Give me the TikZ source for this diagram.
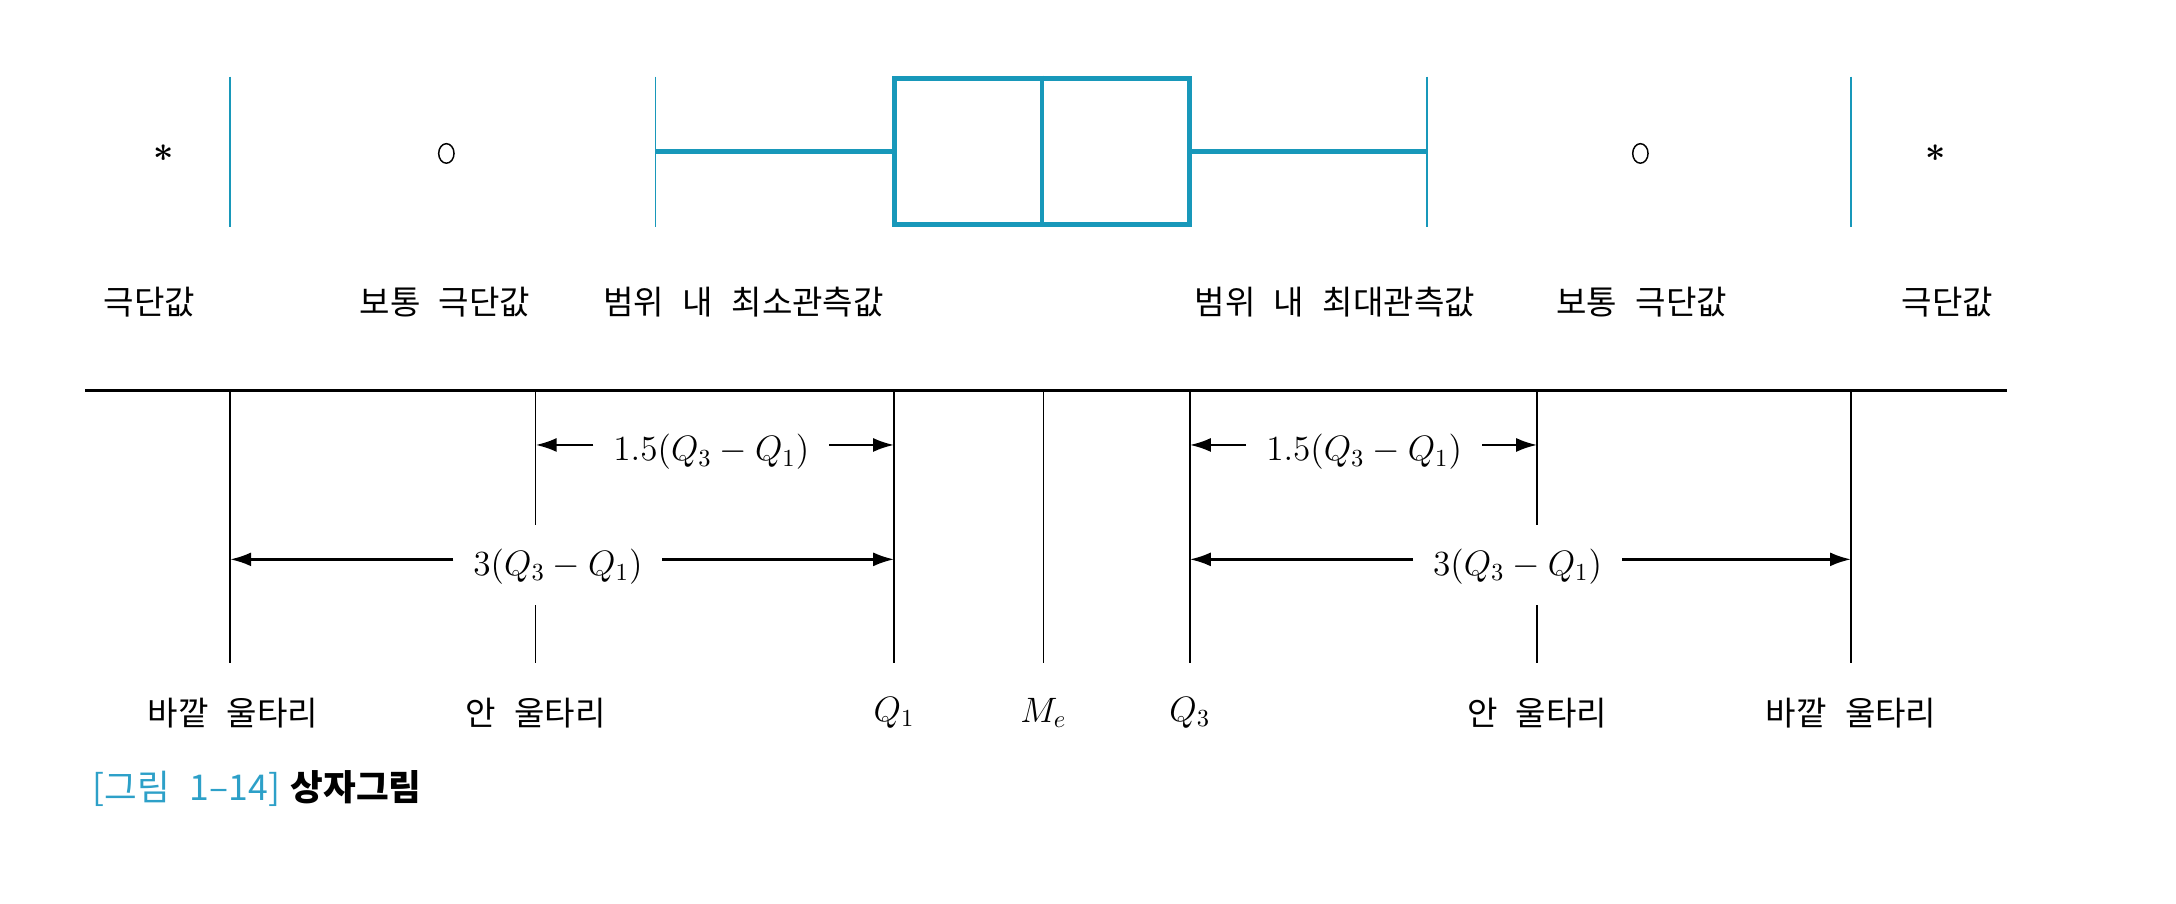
\documentclass[tikz,border=0pt]{standalone}
\usepackage{amsmath}
\usepackage[no-math]{fontspec}
\setmainfont{Noto Sans CJK KR}[WordSpace=2.5]
\usepackage{xcolor}
\usepackage{tikz}
\usetikzlibrary{calc, positioning, arrows.meta, shapes.geometric}
\definecolor{boxblue}{RGB}{24,152,186}
\definecolor{capblue}{RGB}{45,160,200}

\begin{document}
\begin{tikzpicture}[
    lab/.style={font=\fontsize{13.5}{16}\selectfont, inner sep=0pt},
    mlab/.style={font=\fontsize{14.4}{17}\selectfont, inner xsep=0.28cm, inner ysep=0pt},
    fence/.style={boxblue, line width=0.7pt},
    bx/.style={draw=boxblue, line width=2pt, minimum width=4.24cm, minimum height=2.1cm, inner sep=0pt},
    oval/.style={draw, ellipse, minimum width=2.2mm, minimum height=2.8mm, inner sep=0pt, line width=0.6pt},
    star/.style={font=\fontsize{14.4}{17}\selectfont, inner sep=0pt},
    dim/.style={-{Latex[length=3mm,width=2mm]}, line width=1pt},
    tick/.style={line width=0.6pt}
]
    \useasboundingbox (0,0) rectangle (31.2,-12.96);

    % box plot
    \node[bx] (box) at (14.94,-2.17) {};
    \draw[boxblue, line width=2pt] (box.north) -- (box.south);
    \foreach \n/\x in {fL/3.3, wL/9.4, wR/20.46, fR/26.54} {
        \coordinate (\n-t) at (\x,-1.1);
        \coordinate (\n-b) at (\x,-3.26);
        \draw[fence] (\n-t) -- (\n-b);
    }
    \draw[boxblue, line width=2pt] (wL-t |- box.west) -- (box.west);
    \draw[boxblue, line width=2pt] (box.east) -- (wR-t |- box.east);
    \node[star] (sL) at (2.34,-2.2) {$\boldsymbol{*}$};
    \node[oval] (oL) at (6.4,-2.2) {};
    \node[oval] (oR) at (23.52,-2.2) {};
    \node[star] (sR) at (27.76,-2.2) {$\boldsymbol{*}$};

    \node[lab] (exL) at (2.14,-4.33) {극단값};
    \node[lab] (mexL) at (6.38,-4.33) {보통 극단값};
    \node[lab] (minv) at (10.66,-4.33) {범위 내 최소관측값};
    \node[lab] (maxv) at (19.14,-4.33) {범위 내 최대관측값};
    \node[lab] (mexR) at (23.54,-4.33) {보통 극단값};
    \node[lab] (exR) at (27.92,-4.33) {극단값};

    % axis and fences
    \coordinate (ax0) at (1.22,-5.6);
    \coordinate (ax1) at (28.78,-5.6);
    \draw[line width=1.1pt] (ax0) -- (ax1);
    \foreach \n/\x in {ofL/3.3, q1/12.82, me/14.96, q3/17.06, ofR/26.54} {
        \coordinate (\n) at (\x,-5.6);
        \coordinate (\n-b) at (\x,-9.5);
        \draw[tick] (\n) -- (\n-b);
    }
    \foreach \n/\x in {ifL/7.68, ifR/22.04} {
        \coordinate (\n) at (\x,-5.6);
        \coordinate (\n-g) at (\x,-7.53);
        \coordinate (\n-h) at (\x,-8.68);
        \coordinate (\n-b) at (\x,-9.5);
        \draw[tick] (\n) -- (\n-g);
        \draw[tick] (\n-h) -- (\n-b);
    }

    \coordinate (r1) at (0,-6.38);
    \coordinate (r2) at (0,-8.02);
    \node[mlab] (aL) at (10.2,-6.48) {$1.5(Q_3-Q_1)$};
    \node[mlab] (bL) at (8.0,-8.12) {$3(Q_3-Q_1)$};
    \node[mlab] (aR) at (19.56,-6.48) {$1.5(Q_3-Q_1)$};
    \node[mlab] (bR) at (21.76,-8.12) {$3(Q_3-Q_1)$};
    \draw[dim] (aL.west |- r1) -- (ifL |- r1);
    \draw[dim] (aL.east |- r1) -- (q1 |- r1);
    \draw[dim] (bL.west |- r2) -- (ofL |- r2);
    \draw[dim] (bL.east |- r2) -- (q1 |- r2);
    \draw[dim] (aR.west |- r1) -- (q3 |- r1);
    \draw[dim] (aR.east |- r1) -- (ifR |- r1);
    \draw[dim] (bR.west |- r2) -- (q3 |- r2);
    \draw[dim] (bR.east |- r2) -- (ofR |- r2);

    \node[lab] (ofL-l) at (3.34,-10.22) {바깥 울타리};
    \node[lab] (ifL-l) at (7.68,-10.22) {안 울타리};
    \node[mlab] (q1-l) at (12.82,-10.22) {$Q_1$};
    \node[mlab] (me-l) at (14.96,-10.22) {$M_e$};
    \node[mlab] (q3-l) at (17.06,-10.22) {$Q_3$};
    \node[lab] (ifR-l) at (22.04,-10.22) {안 울타리};
    \node[lab] (ofR-l) at (26.54,-10.22) {바깥 울타리};

    \node[anchor=west, inner sep=0pt, font=\fontsize{14.5}{17}\selectfont] (cap) at (1.32,-11.3)
        {\textcolor{capblue}{[그림 1–14]}\hspace{0.3em}\textbf{상자그림}};
\end{tikzpicture}
\end{document}
